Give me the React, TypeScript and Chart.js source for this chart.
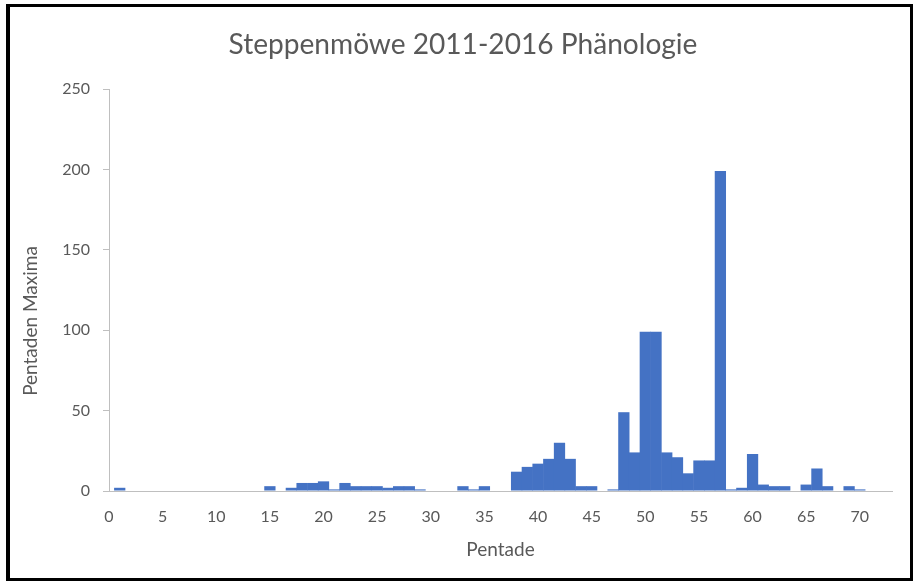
import React, { useEffect, useRef } from "react";
import { Chart, registerables } from "chart.js";

Chart.register(...registerables);

const chartTitle = "Steppenmöwe 2011-2016 Phänologie";
const xAxisTitle = "Pentade";
const yAxisTitle = "Pentaden Maxima";

const pentades = [
  1, 2, 3, 4, 5, 6, 7, 8, 9, 10, 11, 12, 13, 14, 15, 16, 17, 18, 19, 20, 21, 22, 23, 24,
  25, 26, 27, 28, 29, 30, 31, 32, 33, 34, 35, 36, 37, 38, 39, 40, 41, 42, 43, 44, 45, 46, 47, 48,
  49, 50, 51, 52, 53, 54, 55, 56, 57, 58, 59, 60, 61, 62, 63, 64, 65, 66, 67, 68, 69, 70, 71, 72,
];

const maxima = [
  2, 0, 0, 0, 0, 0, 0, 0, 0, 0, 0, 0, 0, 0, 3, 0, 2, 5, 5, 6, 1, 5, 3, 3,
  3, 2, 3, 3, 1, 0, 0, 0, 3, 1, 3, 0, 0, 12, 15, 17, 20, 30, 20, 3, 3, 0, 1, 49,
  24, 99, 99, 24, 21, 11, 19, 19, 199, 1, 2, 23, 4, 3, 3, 0, 4, 14, 3, 0, 3, 1, 0, 0,
];

const yTicks = [0, 50, 100, 150, 200, 250];
const xTickLabels = [0, 5, 10, 15, 20, 25, 30, 35, 40, 45, 50, 55, 60, 65, 70];

const TEXT = "#595959";
const AXIS = "#bfbfbf";
const BAR = "#4472C4";
const FONT = "Lato, 'Open Sans', sans-serif";

export default function App() {
  const ref = useRef<HTMLCanvasElement | null>(null);

  useEffect(() => {
    if (!ref.current) return;
    const textPlugin = {
      id: "texts",
      afterDraw(chart: any) {
        const ctx = chart.ctx as CanvasRenderingContext2D;
        ctx.save();
        ctx.fillStyle = TEXT;
        // title fitted to the reference width
        ctx.font = `100px ${FONT}`;
        const w = ctx.measureText(chartTitle).width;
        const size = (100 * 469) / w;
        ctx.font = `${size}px ${FONT}`;
        ctx.textAlign = "center";
        ctx.textBaseline = "alphabetic";
        ctx.fillText(chartTitle, 463, 54);
        // y axis title
        ctx.font = `19px ${FONT}`;
        ctx.translate(31, 321);
        ctx.rotate(-Math.PI / 2);
        ctx.textBaseline = "middle";
        ctx.fillText(yAxisTitle, 0, 0);
        ctx.restore();
      },
    };

    const chart = new Chart(ref.current, {
      type: "bar",
      data: {
        datasets: [
          {
            data: pentades.map((p, i) => ({ x: p, y: maxima[i] })),
            backgroundColor: BAR,
            borderWidth: 0,
            barPercentage: 1.05,
            categoryPercentage: 1,
          },
        ],
      },
      options: {
        animation: false,
        responsive: false,
        devicePixelRatio: 1,
        layout: { padding: { left: 0, right: 22, top: 89, bottom: 0 } },
        plugins: {
          legend: { display: false },
          tooltip: { enabled: false },
          title: { display: false },
        },
        scales: {
          x: {
            type: "linear",
            min: 0,
            max: 73,
            offset: false,
            afterFit: (s: any) => {
              s.height = 91;
            },
            afterBuildTicks: (s: any) => {
              s.ticks = xTickLabels.map((v) => ({ value: v }));
            },
            ticks: {
              stepSize: 5,
              color: TEXT,
              font: { family: FONT, size: 16 },
              padding: 16,
              maxRotation: 0,
              autoSkip: false,
            },
            grid: { display: true, drawOnChartArea: false, drawTicks: false, color: AXIS },
            border: { display: true, color: AXIS, width: 1 },
            title: {
              display: true,
              text: xAxisTitle,
              color: TEXT,
              font: { family: FONT, size: 19 },
              padding: { top: 0, bottom: 21 },
            },
          },
          y: {
            min: 0,
            max: 250,
            afterFit: (s: any) => {
              s.width = 109;
            },
            afterBuildTicks: (s: any) => {
              s.ticks = yTicks.map((v) => ({ value: v }));
            },
            ticks: {
              stepSize: 50,
              color: TEXT,
              font: { family: FONT, size: 16 },
              padding: 13,
            },
            grid: { display: true, drawOnChartArea: false, drawTicks: true, tickLength: 6, color: AXIS },
            border: { display: true, color: AXIS, width: 1 },
          },
        },
      },
      plugins: [textPlugin],
    } as any);
    return () => chart.destroy();
  }, []);

  return (
    <div>
      <canvas
        ref={ref}
        width={914}
        height={582}
        style={{ position: "fixed", left: 0, top: 0, width: 914, height: 582, background: "#fff" }}
      />
      <div
        style={{
          position: "fixed",
          left: 6,
          top: 4,
          width: 907,
          height: 577,
          boxSizing: "border-box",
          borderTop: "3px solid #000",
          borderLeft: "4px solid #000",
          borderRight: "3px solid #000",
          borderBottom: "3px solid #000",
          pointerEvents: "none",
        }}
      />
    </div>
  );
}
